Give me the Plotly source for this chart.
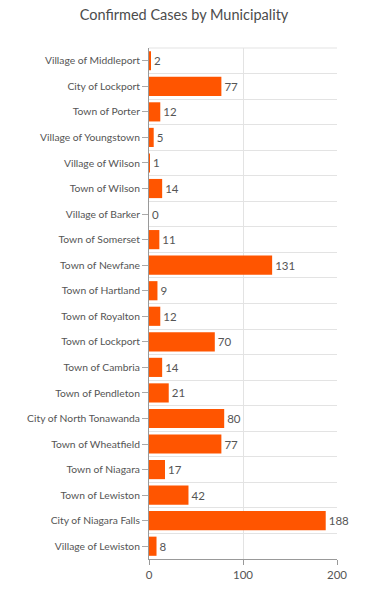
import plotly.graph_objects as go

municipalities = [
    "Village of Middleport", "City of Lockport", "Town of Porter", "Village of Youngstown",
    "Village of Wilson", "Town of Wilson", "Village of Barker", "Town of Somerset",
    "Town of Newfane", "Town of Hartland", "Town of Royalton", "Town of Lockport",
    "Town of Cambria", "Town of Pendleton", "City of North Tonawanda", "Town of Wheatfield",
    "Town of Niagara", "Town of Lewiston", "City of Niagara Falls", "Village of Lewiston",
]
cases = [2, 77, 12, 5, 1, 14, 0, 11, 131, 9, 12, 70, 14, 21, 80, 77, 17, 42, 188, 8]
x_ticks = [0, 100, 200]

positions = list(range(len(municipalities)))
font_family = "Lato, 'Open Sans', sans-serif"

W, H = 368, 596

fig = go.Figure(go.Bar(
    x=cases,
    y=positions,
    orientation="h",
    marker=dict(color="#ff5500", line=dict(width=0)),
    text=[str(v) for v in cases],
    textposition="outside",
    textfont=dict(size=11.5, color="#555555", family=font_family),
    cliponaxis=False,
    width=0.75,
    hoverinfo="x+y",
))

fig.update_layout(
    width=W, height=H,
    margin=dict(l=149, r=31, t=48, b=37, autoexpand=False),
    paper_bgcolor="white", plot_bgcolor="white",
    showlegend=False,
    title=dict(text="Confirmed Cases by Municipality", x=0.5, xanchor="center",
               y=1 - 15 / H, yanchor="middle", automargin=False,
               font=dict(size=14.5, color="#4c4c4c", family=font_family)),
    font=dict(family=font_family, color="#555555"),
)

fig.update_xaxes(
    range=[0, 200], tickvals=x_ticks, ticktext=[str(t) for t in x_ticks],
    showgrid=True, gridcolor="#e3e3e3", gridwidth=1,
    zeroline=False, showline=True, linecolor="#999999", linewidth=1,
    ticks="outside", ticklen=5, tickcolor="#999999",
    tickfont=dict(size=11.5, color="#555555"),
    automargin=False,
)

fig.update_yaxes(
    range=[len(municipalities) - 0.5, -0.5],
    tickvals=positions, ticktext=municipalities,
    showgrid=False, zeroline=False,
    showline=True, linecolor="#999999", linewidth=1,
    ticks="outside", ticklen=6, tickcolor="#aaaaaa",
    tickfont=dict(size=10.3, color="#555555"),
    automargin=False,
    minor=dict(tick0=0.5, dtick=1, showgrid=True, gridcolor="#e3e3e3", gridwidth=1, ticks=""),
)

# top border of plot area
fig.add_shape(type="line", xref="paper", yref="paper", x0=0, x1=1, y0=1, y1=1,
              line=dict(color="#e3e3e3", width=1))

# remove the default page margin so the figure fills the window exactly
fig.write_html(
    "out.html",
    config={"displayModeBar": False},
    post_script="document.body.style.margin='0';document.body.style.overflow='hidden';",
)
